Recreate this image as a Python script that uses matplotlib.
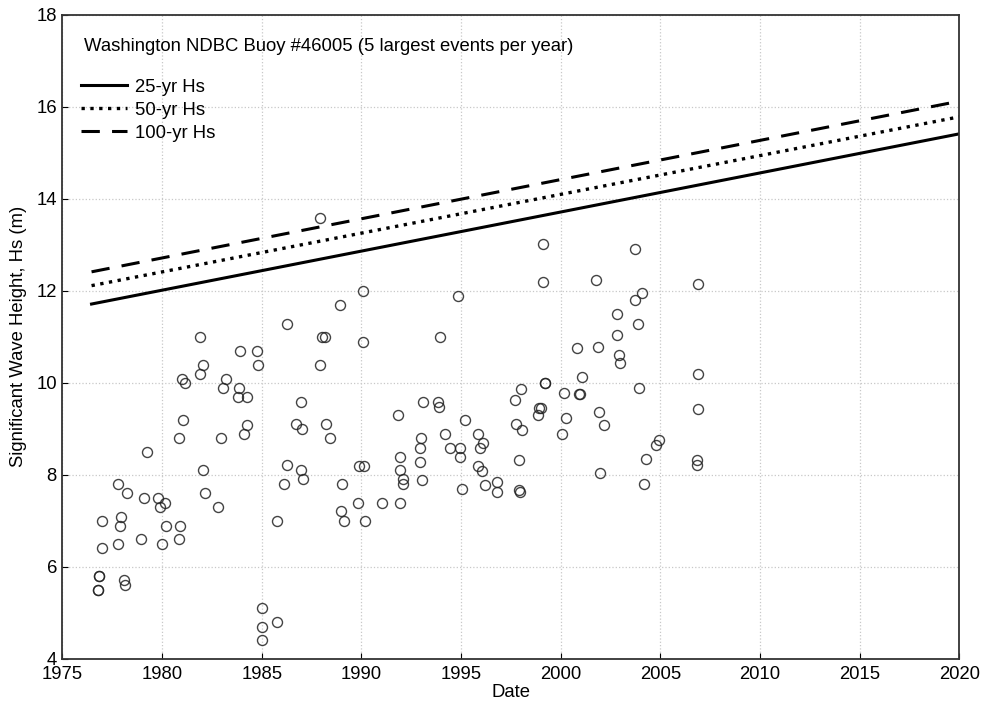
import matplotlib
matplotlib.use('Agg')
import matplotlib.pyplot as plt
import numpy as np

plt.rcParams['font.family'] = ['Liberation Sans', 'DejaVu Sans']

# storm events (decimal year, Hs in m)
years = [1986.25, 1981.88, 1983.91, 1984.78, 1982.05, 1984.81, 1981.00, 1981.90, 1981.13, 1983.22,
         1983.04, 1983.87, 1983.82, 1984.27, 1981.05, 1984.26, 1984.12, 1980.83, 1982.94, 1979.25,
         1982.03, 1982.15, 1982.80, 1977.80, 1978.24, 1979.10, 1979.77, 1980.16, 1979.87, 1976.98,
         1977.95, 1977.90, 1980.18, 1980.90, 1978.94, 1980.86, 1976.97, 1977.80, 1979.98, 1985.78,
         1986.26, 1986.13, 1976.83, 1976.83, 1976.78, 1976.78, 1978.10, 1978.12, 1985.02, 1985.00,
         1985.00, 1985.75,
         1987.90, 1990.08, 1988.94, 1994.84, 1988.02, 1988.16, 1990.08, 1993.93, 1987.90, 1986.98,
         1986.70, 1987.00, 1988.21, 1988.41, 1986.98, 1987.05, 1989.02, 1989.89, 1990.13, 1989.84,
         1991.01, 1988.99, 1989.14, 1990.18, 1991.85, 1993.07, 1993.86, 1993.90, 1991.93, 1991.92,
         1992.07, 1992.08, 1991.92, 1992.97, 1992.94, 1992.94, 1993.04, 1994.19, 1994.44, 1994.94,
         1994.94, 1995.03, 1995.18, 1995.86, 1996.11, 1995.93, 1995.85, 1996.03, 1996.20, 1996.79,
         1996.80, 1997.72, 1998.02, 1997.76, 1998.06, 1997.92, 1997.92, 1997.95,
         1999.09, 1999.09, 2003.74, 2001.78, 2006.89, 2004.09, 2003.73, 2002.82, 2003.86, 2002.82,
         2000.82, 2001.87, 2002.94, 2002.99, 2001.07, 1999.19, 1999.23, 2000.16, 2000.92, 2000.98,
         2003.93, 2006.89, 2006.89, 1998.92, 1999.02, 1998.87, 2000.28, 2001.92, 2002.18, 2000.05,
         2004.93, 2004.78, 2004.28, 2001.98, 2004.19, 2006.82, 2006.82]
hs = [11.28, 10.99, 10.69, 10.69, 10.38, 10.38, 10.09, 10.19, 9.99, 10.09,
      9.89, 9.89, 9.69, 9.69, 9.19, 9.09, 8.89, 8.79, 8.79, 8.49,
      8.10, 7.60, 7.29, 7.80, 7.60, 7.49, 7.49, 7.39, 7.29, 7.00,
      7.09, 6.89, 6.89, 6.89, 6.60, 6.60, 6.40, 6.49, 6.49, 7.00,
      8.20, 7.80, 5.80, 5.80, 5.49, 5.49, 5.70, 5.60, 5.10, 4.69,
      4.40, 4.79,
      13.59, 11.99, 11.68, 11.88, 10.99, 10.99, 10.88, 10.99, 10.38, 9.59,
      9.10, 8.99, 9.10, 8.79, 8.10, 7.90, 7.80, 8.19, 8.19, 7.39,
      7.39, 7.20, 7.00, 7.00, 9.29, 9.59, 9.59, 9.48, 8.39, 8.10,
      7.90, 7.80, 7.39, 8.79, 8.59, 8.28, 7.89, 8.89, 8.59, 8.59,
      8.39, 7.69, 9.19, 8.89, 8.69, 8.59, 8.19, 8.07, 7.78, 7.85,
      7.62, 9.62, 9.86, 9.10, 8.97, 8.31, 7.67, 7.62,
      13.02, 12.19, 12.90, 12.24, 12.15, 11.95, 11.79, 11.50, 11.28, 11.04,
      10.75, 10.77, 10.61, 10.43, 10.13, 9.99, 9.99, 9.78, 9.75, 9.75,
      9.89, 10.19, 9.42, 9.46, 9.46, 9.30, 9.23, 9.37, 9.09, 8.89,
      8.75, 8.65, 8.33, 8.04, 7.80, 8.32, 8.21]

# return level trend lines (start / end)
trend_x = [1976.46, 2020.0]
hs25 = [11.71, 15.41]
hs50 = [12.11, 15.78]
hs100 = [12.41, 16.12]

fs = 13.3

fig = plt.figure(figsize=(9.82, 7.04), dpi=100)
ax = fig.add_axes([0.0636, 0.0644, 0.9133, 0.9147])

ax.plot(years, hs, 'o', mfc='none', mec='#222222', mew=1.0, ms=7.2, alpha=0.85, zorder=3)
l1, = ax.plot(trend_x, hs25, '-', color='k', lw=2.2, label='25-yr Hs')
l2, = ax.plot(trend_x, hs50, ':', color='k', lw=2.4, label='50-yr Hs')
l3, = ax.plot(trend_x, hs100, '--', color='k', lw=2.2, dashes=(6, 4), label='100-yr Hs')

ax.set_xlim(1975, 2020)
ax.set_ylim(4, 18)
ax.set_xticks(np.arange(1975, 2021, 5))
ax.set_yticks(np.arange(4, 19, 2))
ax.grid(True, linestyle=':', color='#c8c8c8', lw=0.9)
ax.tick_params(direction='in', labelsize=fs, length=4)
ax.tick_params(axis='x', pad=5)
ax.tick_params(axis='y', pad=4)
for s in ax.spines.values():
    s.set_linewidth(1.3)
    s.set_color('#333333')

ax.set_xlabel('Date', fontsize=fs, labelpad=1)
ax.set_ylabel('Significant Wave Height, Hs (m)', fontsize=fs, labelpad=7)

ax.text(0.024, 0.95, 'Washington NDBC Buoy #46005 (5 largest events per year)',
        transform=ax.transAxes, fontsize=fs, va='center', ha='left')
ax.legend(handles=[l1, l2, l3], loc='upper left', bbox_to_anchor=(0.0125, 0.912),
          frameon=False, fontsize=fs, handlelength=2.5, handletextpad=0.4,
          labelspacing=0.33, borderaxespad=0)

fig.savefig('out.png', dpi=100)
